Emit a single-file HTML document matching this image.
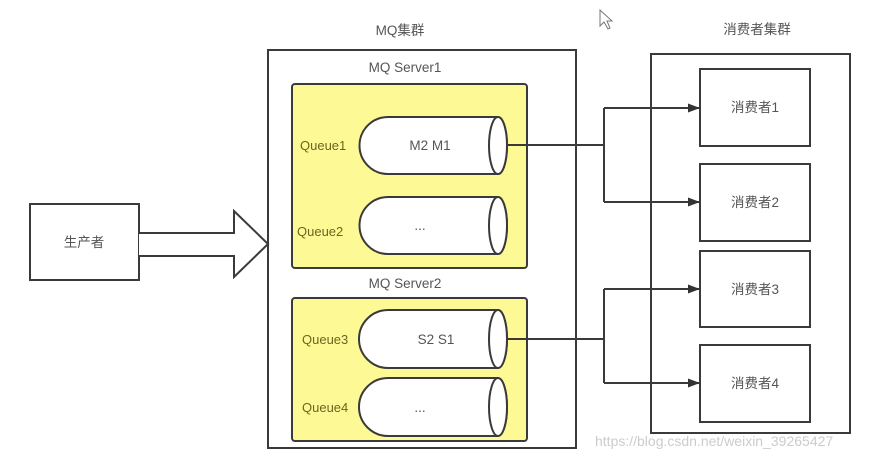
<!DOCTYPE html>
<html><head><meta charset="utf-8"><style>
body{margin:0;background:#fff;width:875px;height:458px;overflow:hidden}
svg{display:block}
text{font-family:"Liberation Sans","Noto Sans CJK SC",sans-serif;font-size:13.5px;fill:#555}
.q{fill:#6b6520;font-size:13px}
</style></head><body>
<svg width="875" height="458" viewBox="0 0 875 458">
<defs><marker id="a" markerWidth="12" markerHeight="9" refX="12" refY="4.5" orient="auto" markerUnits="userSpaceOnUse"><path d="M0,0 L12,4.5 L0,9z" fill="#333"/></marker></defs>
<g stroke="#3a3a3a" stroke-width="2" fill="none">
<rect x="268" y="50" width="308" height="398" fill="#fff"/>
<rect x="651" y="54" width="199" height="379"/>
<rect x="30" y="204" width="109" height="76" fill="#fff"/>
<path d="M139,233 H234 V211 L268,244 L234,277 V256 H139" fill="#fff"/>
<rect x="292" y="84" width="235" height="184" rx="3" fill="#fdfa96"/>
<rect x="292" y="298" width="235" height="143" rx="3" fill="#fdfa96"/>
<g fill="#fff">
<path d="M388,117 H498 A9,28.5 0 0 1 498,174 H388 A28.5,28.5 0 0 1 388,117z"/><ellipse cx="498" cy="145.5" rx="9" ry="28.5"/>
<path d="M388,197 H498 A9,28.5 0 0 1 498,254 H388 A28.5,28.5 0 0 1 388,197z"/><ellipse cx="498" cy="225.5" rx="9" ry="28.5"/>
<path d="M388,310 H498 A9,29 0 0 1 498,368 H388 A29,29 0 0 1 388,310z"/><ellipse cx="498" cy="339" rx="9" ry="29"/>
<path d="M388,378 H498 A9,29 0 0 1 498,436 H388 A29,29 0 0 1 388,378z"/><ellipse cx="498" cy="407" rx="9" ry="29"/>
</g>
<rect x="700" y="69" width="110" height="77"/>
<rect x="700" y="164" width="110" height="77"/>
<rect x="700" y="251" width="110" height="76"/>
<rect x="700" y="345" width="110" height="77"/>
<path d="M507,145 H604 M604,108 V202"/>
<path d="M604,108 H700" marker-end="url(#a)"/>
<path d="M604,202 H700" marker-end="url(#a)"/>
<path d="M507,339 H604 M604,289 V383"/>
<path d="M604,289 H700" marker-end="url(#a)"/>
<path d="M604,383 H700" marker-end="url(#a)"/>
</g>
<path d="M600,10 V26 L604,22 L608,29 L610,28 L607,21 L612,21 Z" fill="#fff" stroke="#777" stroke-width="1"/>
<text x="400" y="35" text-anchor="middle">MQ集群</text>
<text x="757" y="34" text-anchor="middle">消费者集群</text>
<text x="405" y="72" text-anchor="middle">MQ Server1</text>
<text x="405" y="288" text-anchor="middle">MQ Server2</text>
<text x="84" y="247" text-anchor="middle">生产者</text>
<text class="q" x="300" y="150">Queue1</text>
<text class="q" x="297" y="236">Queue2</text>
<text class="q" x="302" y="344">Queue3</text>
<text class="q" x="302" y="412">Queue4</text>
<text x="430" y="150" text-anchor="middle">M2  M1</text>
<text x="420" y="230" text-anchor="middle">...</text>
<text x="436" y="344" text-anchor="middle">S2  S1</text>
<text x="420" y="412" text-anchor="middle">...</text>
<text x="755" y="112" text-anchor="middle">消费者1</text>
<text x="755" y="207" text-anchor="middle">消费者2</text>
<text x="755" y="294" text-anchor="middle">消费者3</text>
<text x="755" y="388" text-anchor="middle">消费者4</text>
<text x="595" y="446" style="fill:#ccc;font-size:14px">https://blog.csdn.net/weixin_39265427</text>
</svg>
</body></html>
